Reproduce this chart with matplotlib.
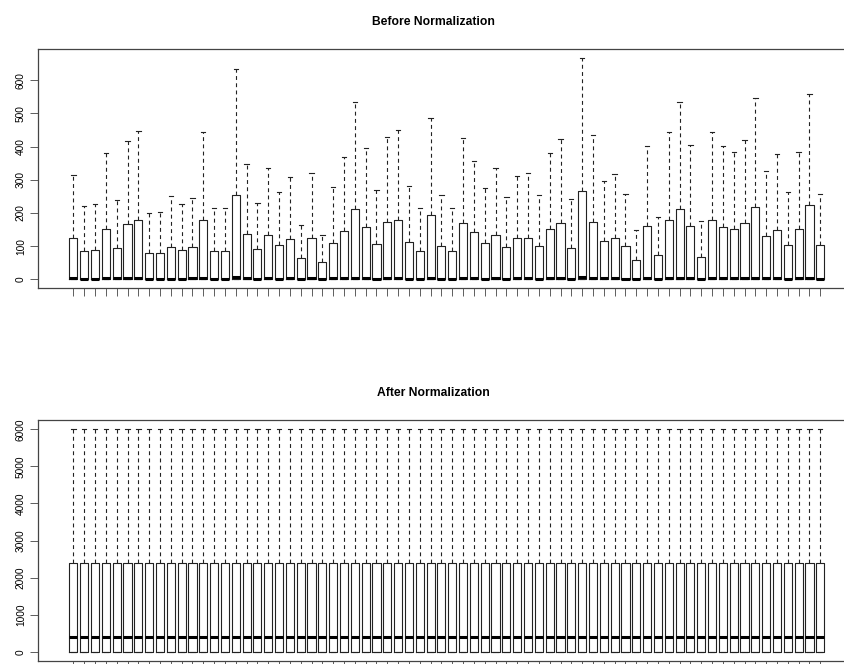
import matplotlib
matplotlib.use('Agg')
import matplotlib.pyplot as plt

plt.rcParams['font.family'] = ['Liberation Sans', 'DejaVu Sans']

# Upper quartile and upper whisker of each sample before normalization
before_q3 = [125, 87, 89, 152, 95, 166, 179, 79, 81, 98,
             90, 97, 178, 86, 85, 253, 138, 92, 133, 105,
             122, 65, 126, 53, 110, 146, 212, 158, 107, 172,
             180, 112, 86, 195, 101, 85, 170, 142, 109, 133,
             98, 124, 126, 101, 152, 170, 96, 267, 174, 117,
             125, 102, 59, 160, 75, 178, 213, 162, 69, 178,
             159, 153, 169, 217, 130, 150, 105, 153, 223, 103]
before_hi = [314, 220, 226, 381, 240, 418, 447, 199, 204, 250,
             227, 244, 444, 216, 214, 634, 347, 231, 335, 264,
             307, 164, 319, 133, 277, 369, 533, 396, 269, 429,
             449, 282, 216, 486, 255, 215, 427, 357, 275, 335,
             247, 312, 319, 255, 381, 424, 241, 667, 435, 297,
             316, 257, 149, 401, 189, 445, 535, 406, 177, 445,
             401, 384, 421, 545, 327, 379, 264, 384, 557, 258]
before_med = [3, 2, 2, 4, 3, 4, 5, 2, 2, 1,
              2, 3, 4, 2, 2, 6, 3, 2, 3, 2,
              3, 2, 3, 1, 3, 4, 5, 4, 2, 5,
              5, 2, 2, 4, 2, 2, 4, 3, 2, 3,
              2, 3, 3, 2, 3, 4, 2, 6, 4, 3,
              3, 2, 1, 4, 2, 4, 5, 4, 2, 4,
              4, 3, 4, 5, 3, 3, 2, 3, 5, 2]

# After normalization every sample has the same distribution
after_q1 = 0
after_med = 400
after_q3 = 2400
after_hi = 6000
n_samples = len(before_q3)

before_stats = [dict(whislo=0, q1=0, med=m, q3=q, whishi=h, fliers=[])
                for m, q, h in zip(before_med, before_q3, before_hi)]
after_stats = [dict(whislo=after_q1, q1=after_q1, med=after_med, q3=after_q3,
                    whishi=after_hi, fliers=[]) for _ in range(n_samples)]

W, H = 845, 664
fig = plt.figure(figsize=(W / 100, H / 100), dpi=100)

frame = '#444444'
ax1 = fig.add_axes([37.7 / W, 1 - 288.3 / H, 818.3 / W, 239.3 / H])
ax2 = fig.add_axes([37.7 / W, 1 - 660.6 / H, 818.3 / W, 240.2 / H])

for ax, stats, ylim, yt in [(ax1, before_stats, (-26.7, 693.7), range(0, 601, 100)),
                            (ax2, after_stats, (-240, 6240), range(0, 6001, 1000))]:
    ax.bxp(stats, positions=range(1, n_samples + 1), widths=0.75,
           showfliers=False, patch_artist=False,
           boxprops=dict(color='#222222', lw=0.8),
           medianprops=dict(color='black', lw=2.2, solid_capstyle='butt'),
           whiskerprops=dict(color='#222222', lw=0.8, linestyle=(0, (3.5, 3))),
           capprops=dict(color='#222222', lw=0.8),
           capwidths=0.4)
    ax.set_xlim(-2.3, 73.3)
    ax.set_ylim(*ylim)
    ax.set_xticks(range(1, n_samples + 1))
    ax.set_xticklabels([])
    ax.set_yticks(list(yt))
    ax.set_yticklabels([str(v) for v in yt], rotation=90, va='center')
    ax.tick_params(axis='both', length=5.5, width=0.6, color=frame,
                   labelsize=7.3, pad=3)
    for s in ax.spines.values():
        s.set_color(frame)
        s.set_linewidth(0.9)

fig.text(433.5 / W, 1 - 22 / H, 'Before Normalization', ha='center', va='center',
         fontsize=8.7, fontweight='bold')
fig.text(433.5 / W, 1 - 393 / H, 'After Normalization', ha='center', va='center',
         fontsize=8.7, fontweight='bold')

fig.savefig('out.png', dpi=100)
